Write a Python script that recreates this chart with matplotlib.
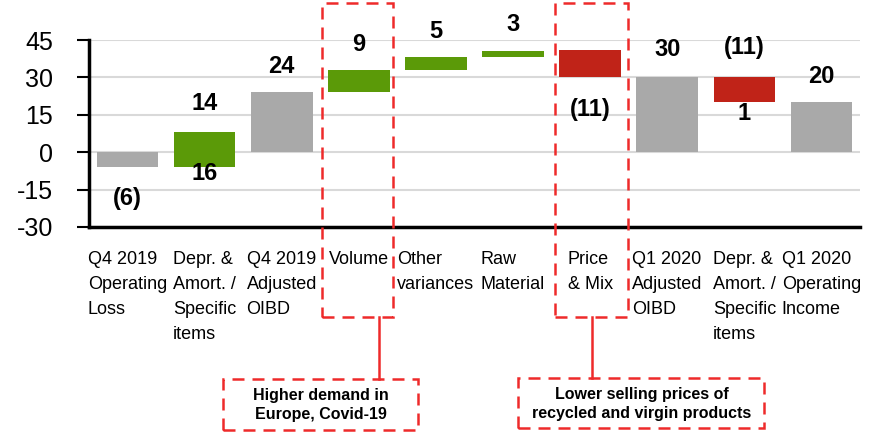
import matplotlib
matplotlib.use('Agg')
import matplotlib.pyplot as plt
from matplotlib.patches import Rectangle
from matplotlib.lines import Line2D

plt.rcParams['font.family'] = ['Liberation Sans Narrow', 'Liberation Sans', 'DejaVu Sans']

# data
categories = ['Q4 2019\nOperating\nLoss', 'Depr. &\nAmort. /\nSpecific\nitems',
              'Q4 2019\nAdjusted\nOIBD', 'Volume', 'Other\nvariances', 'Raw\nMaterial',
              'Price\n& Mix', 'Q1 2020\nAdjusted\nOIBD', 'Depr. &\nAmort. /\nSpecific\nitems',
              'Q1 2020\nOperating\nIncome']
bar_low = [-6, -6, 0, 24, 33, 38, 30, 0, 20, 0]
bar_high = [0, 8, 24, 33, 38, 40.6, 41, 30, 30, 20]
kind = ['total', 'up', 'total', 'up', 'up', 'up', 'down', 'total', 'down', 'total']
top_labels = ['', '14', '24', '9', '5', '3', '', '30', '(11)', '20']
bottom_labels = ['(6)', '16', '', '', '', '', '(11)', '', '1', '']
yticks = [-30, -15, 0, 15, 30, 45]
callouts = ['Higher demand in\nEurope, Covid-19', 'Lower selling prices of\nrecycled and virgin products']

colors = {'total': '#A9A9A9', 'up': '#5B9A08', 'down': '#C02318'}
RED = '#EE2A2A'

fig = plt.figure(figsize=(8.75, 4.46), dpi=100)
W, H = 875, 446
ax = fig.add_axes([89 / W, (H - 227) / H, (860 - 89) / W, 187 / H])

x = list(range(len(categories)))
heights = [h - l for l, h in zip(bar_low, bar_high)]
ax.bar(x, heights, bottom=bar_low, width=0.8, color=[colors[k] for k in kind], zorder=2)

# value labels
top_gap = [0, 11.7, 10.5, 10, 10.6, 10.8, 0, 11, 12, 10.5]
bot_gap = [12.5, 2.4, 0, 0, 0, 0, 12.7, 0, 4.3, 0]
for i in x:
    if top_labels[i]:
        ax.text(i, bar_high[i] + top_gap[i], top_labels[i], ha='center', va='center',
                fontsize=17, fontweight='bold', clip_on=False)
    if bottom_labels[i]:
        ax.text(i, bar_low[i] - bot_gap[i], bottom_labels[i], ha='center', va='center',
                fontsize=17, fontweight='bold', clip_on=False)

ax.set_xlim(-0.5, len(categories) - 0.5)
ax.set_ylim(-30, 45)
ax.set_yticks(yticks)
ax.set_yticklabels([str(v) for v in yticks], fontsize=18)
ax.tick_params(axis='y', length=9, width=1.5, pad=17, color='black')
ax.set_xticks(x)
ax.set_xticklabels(categories, fontsize=13, multialignment='left', linespacing=1.62, va='top')
ax.tick_params(axis='x', length=0, pad=17)

ax.yaxis.grid(True, color='#D9D9D9', lw=1.5, zorder=0)
ax.set_axisbelow(True)
for s in ['top', 'right']:
    ax.spines[s].set_visible(False)
ax.spines['left'].set_linewidth(2.5)
ax.spines['bottom'].set_linewidth(2.5)


def fx(px):
    return px / W


def fy(py):
    return 1 - py / H


dash = (0, (4.8, 3.2))


def dbox(x0, y0, x1, y1):
    fig.patches.append(Rectangle((fx(x0), fy(y1)), fx(x1) - fx(x0), fy(y0) - fy(y1),
                                 transform=fig.transFigure, fill=False, ec=RED, lw=1.8,
                                 linestyle=dash, zorder=5))


# highlight boxes around Volume and Price & Mix
dbox(322, 3, 393, 317)
dbox(555, 3, 628, 317)
fig.lines.append(Line2D([fx(379), fx(379)], [fy(317), fy(379)], transform=fig.transFigure, color=RED, lw=1.8))
fig.lines.append(Line2D([fx(592), fx(592)], [fy(317), fy(378)], transform=fig.transFigure, color=RED, lw=1.8))

# callout boxes
dbox(223, 379, 418, 430)
dbox(518, 378, 764, 428)
fig.text(fx(321), fy(405), callouts[0], ha='center', va='center', fontsize=11.5,
         fontweight='bold', linespacing=1.35)
fig.text(fx(642), fy(404), callouts[1], ha='center', va='center', fontsize=11.5,
         fontweight='bold', linespacing=1.35)

fig.savefig('out.png', dpi=100)
